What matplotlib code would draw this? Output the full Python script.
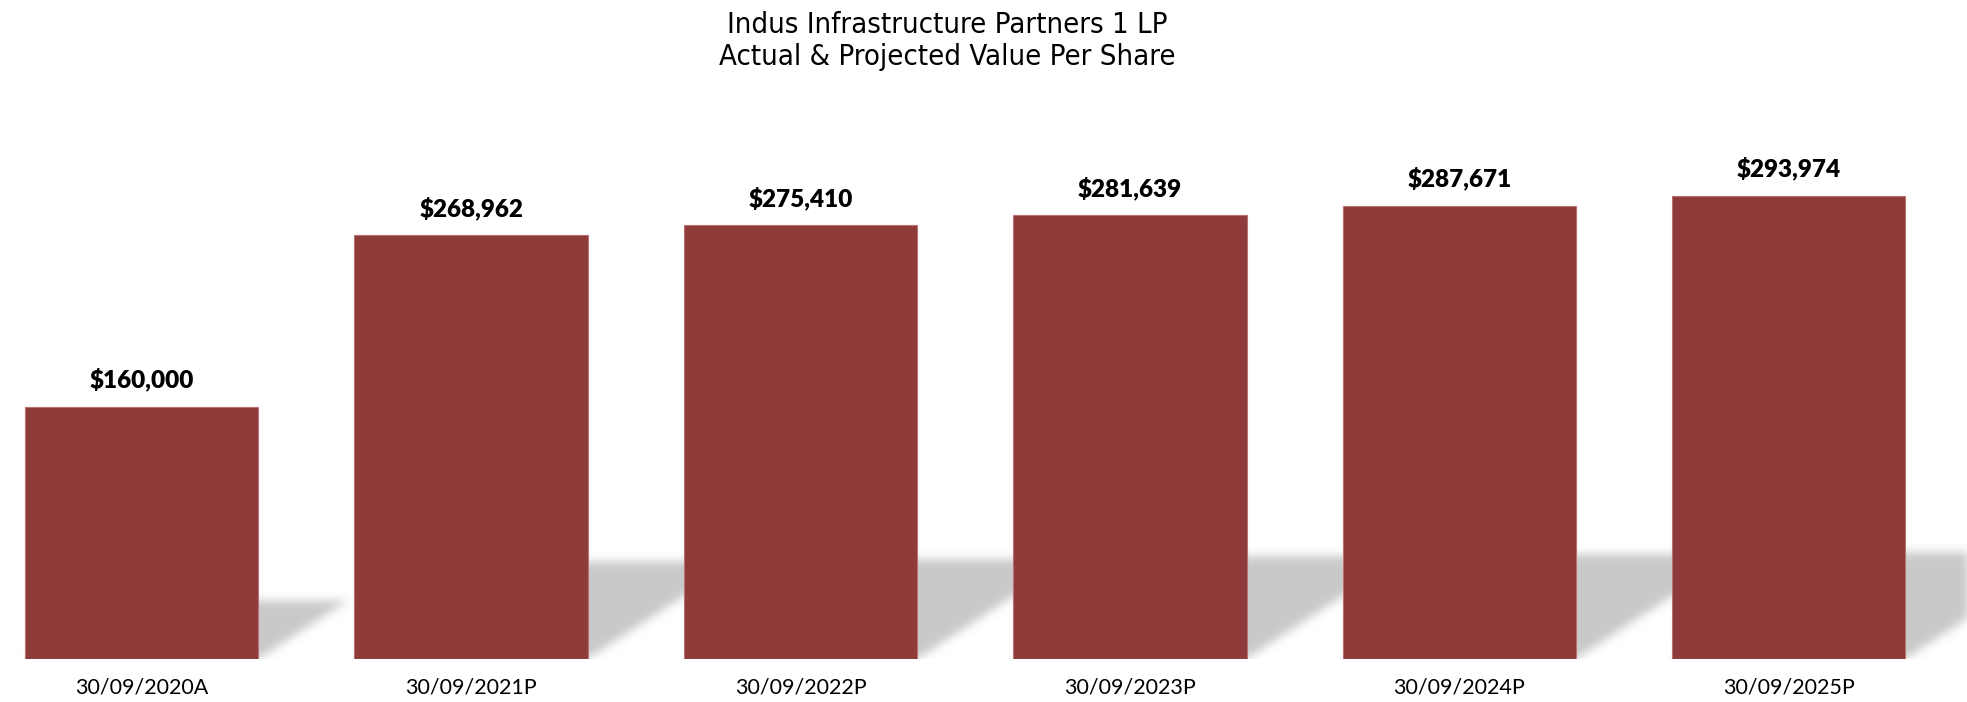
"""
Value-per-share bar chart for Indus Infrastructure Partners 1 LP,
with a soft perspective shadow cast behind each bar.
"""

import numpy as np
import matplotlib
matplotlib.use("Agg")
import matplotlib.pyplot as plt
from matplotlib.path import Path

# ---------------------------------------------------------------------------
# Data
# ---------------------------------------------------------------------------
periods = ["30/09/2020A", "30/09/2021P", "30/09/2022P",
           "30/09/2023P", "30/09/2024P", "30/09/2025P"]
values = [160000, 268962, 275410, 281639, 287671, 293974]

TITLE_LINES = ["Indus Infrastructure Partners 1 LP",
               "Actual & Projected Value Per Share"]

BAR_COLOR = "#8E3B3A"
BAR_EDGE = "#B97272"
BAR_WIDTH = 0.708

# shadow geometry: height fraction and sideways lean per unit of value
SHADOW_RISE = 0.23
SHADOW_LEAN = 0.27 / 160000
SHADOW_GRAY = 0.79
SHADOW_SIGMA = 4.5  # px


def gaussian_blur(img, sigma):
    """Separable gaussian blur with plain numpy."""
    r = int(3 * sigma)
    k = np.exp(-0.5 * (np.arange(-r, r + 1) / sigma) ** 2)
    k /= k.sum()
    padded = np.pad(img, r, mode="constant")
    tmp = np.apply_along_axis(lambda m: np.convolve(m, k, mode="valid"), 1, padded)
    out = np.apply_along_axis(lambda m: np.convolve(m, k, mode="valid"), 0, tmp)
    return out


W, H, DPI = 1967, 702, 100
fig = plt.figure(figsize=(W / DPI, H / DPI), dpi=DPI)
fig.patch.set_facecolor("white")

# axes: baseline at 659 px from top, 1.575 px per $1,000
y_top = 380000
px_per_val = 1.575 / 1000
ax_bottom = (H - 659) / H
ax_height = y_top * px_per_val / H
ax = fig.add_axes([0, ax_bottom, 1, ax_height])

x = np.arange(len(values))
pitch = 329.4
xlim = (-0.5 + 23 / pitch, -0.5 + (W + 23) / pitch)

# --- shadow layer --------------------------------------------------------
shadow_top = SHADOW_RISE * max(values) * 1.25
nx = W
ny = int(shadow_top * px_per_val)
gx = np.linspace(xlim[0], xlim[1], nx)
gy = np.linspace(shadow_top, 0, ny)
XX, YY = np.meshgrid(gx, gy)
pts = np.column_stack([XX.ravel(), YY.ravel()])
mask = np.zeros(XX.shape)
hw = BAR_WIDTH / 2
for xc, v in zip(x, values):
    poly = Path([(xc - hw, 0), (xc + hw, 0),
                 (xc + hw + SHADOW_LEAN * v, SHADOW_RISE * v),
                 (xc - hw + SHADOW_LEAN * v, SHADOW_RISE * v),
                 (xc - hw, 0)])
    inside = poly.contains_points(pts).reshape(XX.shape)
    mask = np.maximum(mask, inside.astype(float))
mask = gaussian_blur(mask, SHADOW_SIGMA)
rgba = np.zeros((ny, nx, 4))
rgba[..., :3] = SHADOW_GRAY
rgba[..., 3] = np.clip(mask, 0, 1)
ax.imshow(rgba, extent=(xlim[0], xlim[1], 0, shadow_top),
          aspect="auto", interpolation="bilinear", zorder=1)

# --- bars and labels -----------------------------------------------------
ax.bar(x, values, width=BAR_WIDTH, color=BAR_COLOR, edgecolor=BAR_EDGE,
       linewidth=0.8, zorder=2)

for xc, v in zip(x, values):
    ax.annotate(f"${v:,.0f}", (xc, v), xytext=(0, 19.5),
                textcoords="offset points", ha="center", va="center",
                fontsize=17.5, fontweight="heavy", family=["Lato", "DejaVu Sans"],
                color="black")

ax.set_xlim(*xlim)
ax.set_ylim(0, y_top)
ax.set_xticks(x)
ax.set_xticklabels(periods, fontsize=15.5, family=["Lato", "DejaVu Sans"])
ax.tick_params(axis="x", length=0, pad=13)
ax.set_yticks([])
for side in ax.spines.values():
    side.set_visible(False)
ax.set_facecolor("none")

for line, ypx in zip(TITLE_LINES, (25, 57)):
    fig.text(947 / W, 1 - ypx / H, line, ha="center", va="center",
             fontsize=21, fontstretch="condensed", family="DejaVu Sans")

fig.savefig("out.png", dpi=DPI, facecolor="white")
